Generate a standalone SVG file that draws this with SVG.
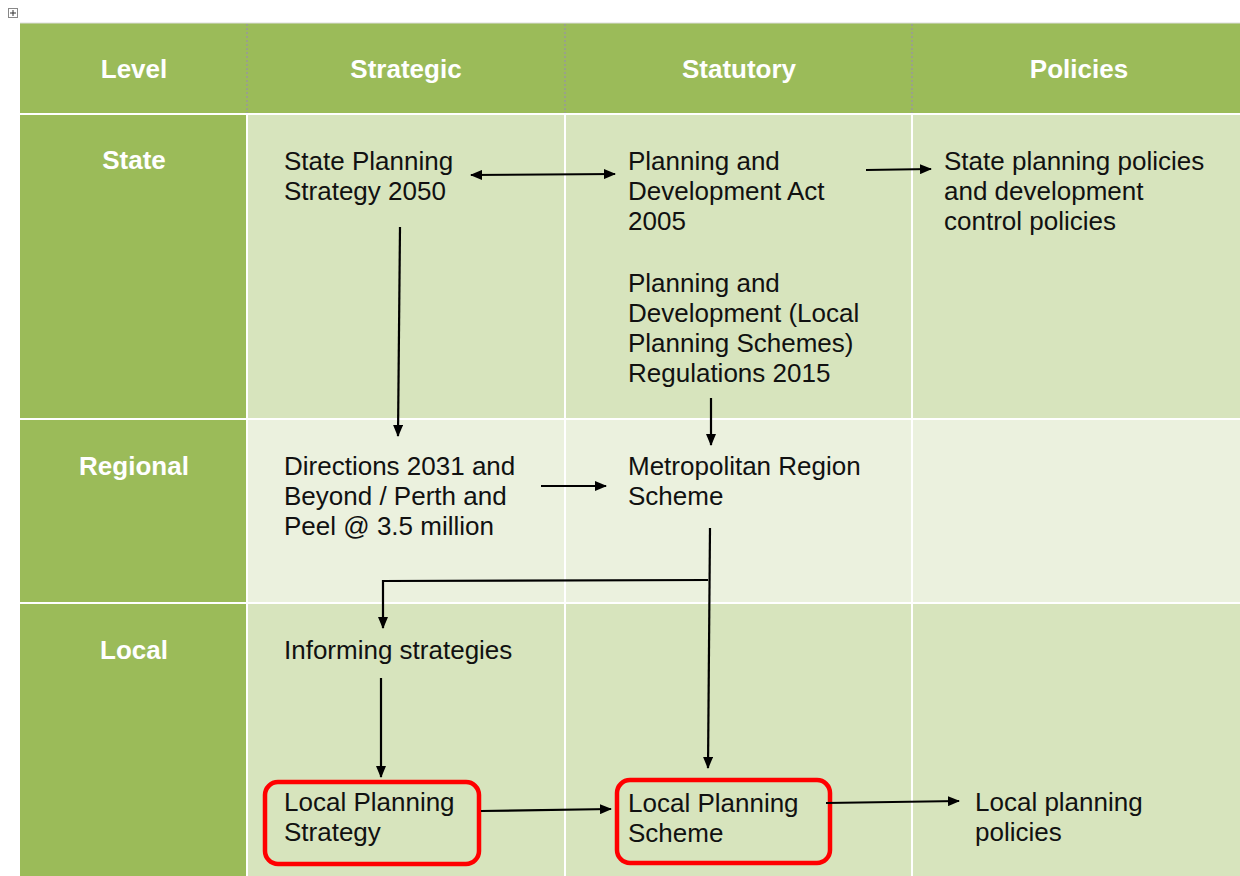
<svg xmlns="http://www.w3.org/2000/svg" width="1240" height="876" viewBox="0 0 1240 876">
<defs>
<style>
.hd{fill:#9BBB59}
.st{fill:#D7E4BD}
.rg{fill:#EBF1DE}
.ht{font-family:"Liberation Sans",Arial,sans-serif;font-size:26px;font-weight:bold;fill:#fff;text-anchor:middle}
.t{font-family:"Liberation Sans",Arial,sans-serif;font-size:26px;fill:#111}
.grid{stroke:#fff;stroke-width:2}
.dot{stroke:#999;stroke-width:1.5;stroke-dasharray:2 2}
.c{stroke:#000;stroke-width:2.2;fill:none}
.box{fill:none;stroke:#f00;stroke-width:4.5}
</style>
<marker id="ah" viewBox="0 0 12 10" refX="11" refY="5" markerWidth="12" markerHeight="10" markerUnits="userSpaceOnUse" orient="auto-start-reverse">
<path d="M0,0 L12,5 L0,10 Z" fill="#000"/>
</marker>
</defs>
<rect width="1240" height="876" fill="#fff"/>
<g id="handle"><rect x="8.5" y="8.5" width="9" height="9" fill="#fff" stroke="#888"/><path d="M10,13 H16 M13,10 V16" stroke="#333" stroke-width="1"/></g>
<g id="table">
<rect class="hd" x="20" y="23" width="1220" height="91"/>
<rect class="hd" x="20" y="114" width="227" height="762"/>
<rect class="st" x="247" y="114" width="993" height="305"/>
<rect class="rg" x="247" y="419" width="993" height="184"/>
<rect class="st" x="247" y="603" width="993" height="273"/>
<line x1="20" y1="23" x2="1240" y2="23" stroke="#ddd" stroke-width="1"/>
<line class="grid" x1="20" y1="114" x2="1240" y2="114"/>
<line class="grid" x1="20" y1="419" x2="1240" y2="419"/>
<line class="grid" x1="20" y1="603" x2="1240" y2="603"/>
<line class="grid" x1="247" y1="114" x2="247" y2="876"/>
<line class="grid" x1="565" y1="114" x2="565" y2="876"/>
<line class="grid" x1="912" y1="114" x2="912" y2="876"/>
<line class="dot" x1="247" y1="24" x2="247" y2="113"/>
<line class="dot" x1="565" y1="24" x2="565" y2="113"/>
<line class="dot" x1="912" y1="24" x2="912" y2="113"/>
</g>
<g id="headers">
<text class="ht" x="134" y="78">Level</text>
<text class="ht" x="406" y="78">Strategic</text>
<text class="ht" x="739" y="78">Statutory</text>
<text class="ht" x="1079" y="78">Policies</text>
<text class="ht" x="134" y="169">State</text>
<text class="ht" x="134" y="475">Regional</text>
<text class="ht" x="134" y="659">Local</text>
</g>
<g id="n-sps"><text class="t" x="284" y="170">State Planning</text><text class="t" x="284" y="200">Strategy 2050</text></g>
<g id="n-pda"><text class="t" x="628" y="170">Planning and</text><text class="t" x="628" y="200">Development Act</text><text class="t" x="628" y="230">2005</text></g>
<g id="n-spp"><text class="t" x="944" y="170">State planning policies</text><text class="t" x="944" y="200">and development</text><text class="t" x="944" y="230">control policies</text></g>
<g id="n-regs"><text class="t" x="628" y="292">Planning and</text><text class="t" x="628" y="322">Development (Local</text><text class="t" x="628" y="352">Planning Schemes)</text><text class="t" x="628" y="382">Regulations 2015</text></g>
<g id="n-dir"><text class="t" x="284" y="475">Directions 2031 and</text><text class="t" x="284" y="505">Beyond / Perth and</text><text class="t" x="284" y="535">Peel @ 3.5 million</text></g>
<g id="n-mrs"><text class="t" x="628" y="475">Metropolitan Region</text><text class="t" x="628" y="505">Scheme</text></g>
<g id="n-inf"><text class="t" x="284" y="659">Informing strategies</text></g>
<g id="n-lps"><rect class="box" x="265" y="782" width="214" height="82" rx="13"/><text class="t" x="284" y="811">Local Planning</text><text class="t" x="284" y="841">Strategy</text></g>
<g id="n-lpsch"><rect class="box" x="617" y="780" width="213" height="83" rx="13"/><text class="t" x="628" y="812">Local Planning</text><text class="t" x="628" y="842">Scheme</text></g>
<g id="n-lpp"><text class="t" x="975" y="811">Local planning</text><text class="t" x="975" y="841">policies</text></g>
<g id="connectors">
<line class="c" x1="471" y1="175" x2="615" y2="174" marker-start="url(#ah)" marker-end="url(#ah)"/>
<line class="c" x1="866" y1="170" x2="931" y2="169" marker-end="url(#ah)"/>
<line class="c" x1="400" y1="227" x2="398" y2="436" marker-end="url(#ah)"/>
<line class="c" x1="711" y1="398" x2="711" y2="445" marker-end="url(#ah)"/>
<line class="c" x1="541" y1="486" x2="606" y2="486" marker-end="url(#ah)"/>
<polyline class="c" points="708,580 383,581 383,628" marker-end="url(#ah)"/>
<line class="c" x1="710" y1="528" x2="708" y2="768" marker-end="url(#ah)"/>
<line class="c" x1="381" y1="678" x2="381" y2="777" marker-end="url(#ah)"/>
<line class="c" x1="481" y1="811" x2="611" y2="809" marker-end="url(#ah)"/>
<line class="c" x1="826" y1="803" x2="959" y2="801" marker-end="url(#ah)"/>
</g>
</svg>
